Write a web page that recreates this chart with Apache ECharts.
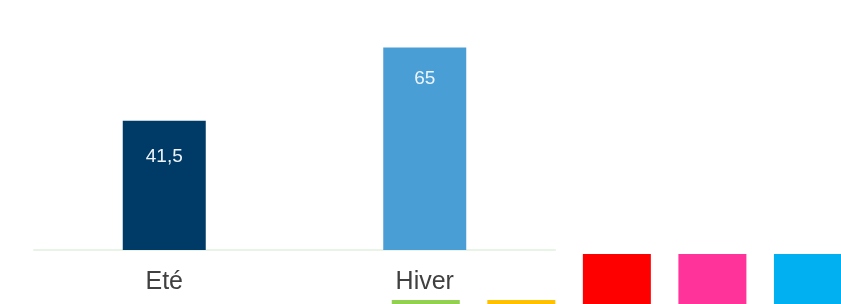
<!DOCTYPE html>
<html>
<head>
<meta charset="utf-8">
<script src="https://cdn.jsdelivr.net/npm/echarts@6/dist/echarts.min.js"></script>
<style>html,body{margin:0;padding:0;background:#fff}#c{width:841px;height:304px}</style>
</head>
<body>
<div id="c"></div>
<script>
var categories = ['Eté', 'Hiver'];
var values = [41.5, 65];
var barColors = ['#003a66', '#4a9ed6'];

var lowerPositions = [0, 1, 2, 3, 4];
var lowerValues = [8, 8, 100, 100, 100];
var lowerColors = ['#92d050', '#ffc000', '#ff0000', '#ff3399', '#00b0f0'];

var labelDistances = [27, 22];

var chart = echarts.init(document.getElementById('c'));
chart.setOption({
  animation: false,
  grid: [
    {left: 34, right: 286, top: 32, bottom: 54},
    {left: 378, right: 0, top: 254, bottom: 0}
  ],
  xAxis: [
    {type: 'category', gridIndex: 0, data: categories,
     axisLine: {lineStyle: {color: '#e8f4e6', width: 2}},
     axisTick: {show: false},
     axisLabel: {color: '#404040', fontSize: 25, fontFamily: 'Liberation Sans, Arial', margin: 20}},
    {type: 'value', gridIndex: 1, min: -0.5, max: 4.346, show: false, splitLine: {show: false}}
  ],
  yAxis: [
    {type: 'value', gridIndex: 0, min: 0, max: 70, show: false, splitLine: {show: false}},
    {type: 'value', gridIndex: 1, min: 0, max: 100, show: false, splitLine: {show: false}}
  ],
  series: [
    {type: 'bar', xAxisIndex: 0, yAxisIndex: 0, barWidth: 83,
     data: values.map(function (v, i) {
       return {value: v, itemStyle: {color: barColors[i]}, label: {distance: labelDistances[i]}};
     }),
     label: {show: true, position: 'insideTop', color: '#eef4fa', fontSize: 19,
       fontFamily: 'Liberation Sans, Arial',
       formatter: function (p) { return String(p.value).replace('.', ','); }}},
    {type: 'bar', xAxisIndex: 1, yAxisIndex: 1, barWidth: 68,
     data: lowerValues.map(function (v, i) { return {value: [lowerPositions[i], v], itemStyle: {color: lowerColors[i]}}; })}
  ]
});
</script>
</body>
</html>
